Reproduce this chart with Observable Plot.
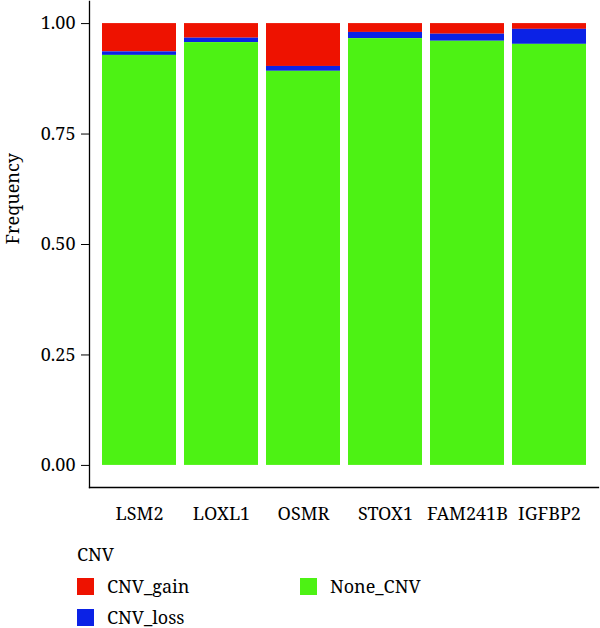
<!DOCTYPE html>
<html>
<head>
<meta charset="utf-8">
<script src="https://cdn.jsdelivr.net/npm/d3@7"></script>
<script src="https://cdn.jsdelivr.net/npm/@observablehq/plot@0.6"></script>
<style>
  html, body { margin: 0; padding: 0; background: #fff; }
  #wrap { width: 600px; font-family: 'Noto Serif', 'Liberation Serif', serif; color: #000; }
  #legend { position: relative; width: 600px; height: 96px; font-size: 18px; }
  #legend .title { position: absolute; left: 77px; top: 10px; line-height: 24px; }
  #legend .item { position: absolute; display: flex; align-items: center; height: 24px; line-height: 24px; }
  #legend .sw { width: 17px; height: 17px; margin-right: 13px; }
</style>
</head>
<body>
<div id="wrap">
  <div id="chart"></div>
  <div id="legend"></div>
</div>
<script>
// Genes along the x axis
const genes = ["LSM2", "LOXL1", "OSMR", "STOX1", "FAM241B", "IGFBP2"];
// Frequency of each CNV status per gene
const cnvGain = [0.064, 0.033, 0.097, 0.020, 0.024, 0.013];
const cnvLoss = [0.008, 0.010, 0.011, 0.014, 0.016, 0.034];
const noneCnv = [0.928, 0.957, 0.892, 0.966, 0.960, 0.953];
// Status categories and their fills
const statuses = ["CNV_gain", "CNV_loss", "None_CNV"];
const statusColors = ["#EE1200", "#0B22E6", "#4DF214"];
const yTicks = [0, 0.25, 0.5, 0.75, 1];

const series = {CNV_gain: cnvGain, CNV_loss: cnvLoss, None_CNV: noneCnv};
const rows = [];
genes.forEach((g, i) => {
  statuses.forEach(s => rows.push({gene: g, cnv: s, freq: series[s][i]}));
});

const fontStack = "'Noto Serif', 'Liberation Serif', serif";

const chart = Plot.plot({
  width: 600,
  height: 532,
  marginLeft: 89,
  marginRight: 2,
  marginTop: 1,
  marginBottom: 45,
  style: {fontFamily: fontStack, fontSize: "18px", color: "#000", background: "#fff"},
  x: {domain: genes, paddingInner: 0.1, paddingOuter: 0.15, label: null},
  y: {domain: [-0.05, 1.05], label: null},
  color: {domain: statuses, range: statusColors},
  marks: [
    Plot.barY(rows, Plot.stackY({
      x: "gene",
      y: "freq",
      z: "cnv",
      fill: "cnv",
      order: ["None_CNV", "CNV_loss", "CNV_gain"]
    })),
    Plot.axisY({ticks: yTicks, tickFormat: d3.format(".2f"), tickSize: 8, tickPadding: 6, label: null, fontSize: 18}),
    Plot.axisX({tickSize: 0, tickPadding: 20, label: null, fontSize: 18}),
    Plot.frame({anchor: "left", stroke: "#000", strokeWidth: 1.3}),
    Plot.frame({anchor: "bottom", stroke: "#000", strokeWidth: 1.3}),
    Plot.text(["Frequency"], {frameAnchor: "left", rotate: -90, dx: -76, fontSize: 18, text: d => d})
  ]
});
document.getElementById("chart").appendChild(chart);

// Legend below the plot
const legend = document.getElementById("legend");
const title = document.createElement("div");
title.className = "title";
title.textContent = "CNV";
legend.appendChild(title);
const spots = [
  {left: 77, top: 42},
  {left: 77, top: 73},
  {left: 300, top: 42}
];
statuses.forEach((s, i) => {
  const item = document.createElement("div");
  item.className = "item";
  item.style.left = spots[i].left + "px";
  item.style.top = spots[i].top + "px";
  const sw = document.createElement("div");
  sw.className = "sw";
  sw.style.background = statusColors[i];
  const label = document.createElement("span");
  label.textContent = s;
  item.appendChild(sw);
  item.appendChild(label);
  legend.appendChild(item);
});
</script>
</body>
</html>
